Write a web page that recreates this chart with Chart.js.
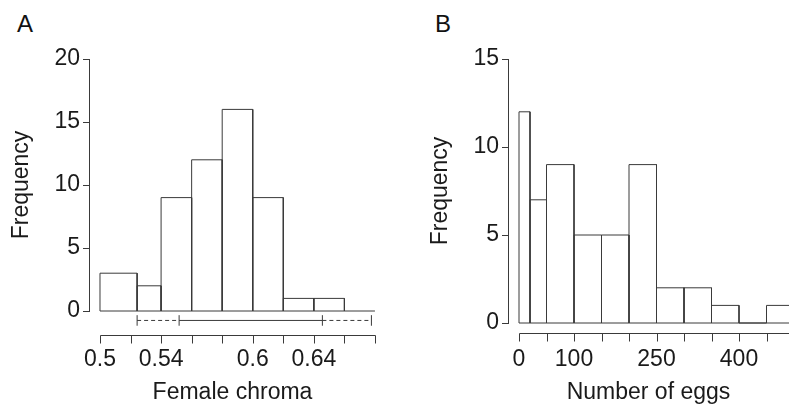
<!DOCTYPE html>
<html>
<head>
<meta charset="utf-8">
<script src="https://cdn.jsdelivr.net/npm/chart.js@4"></script>
<style>
  body { margin: 0; background: #fff; width: 789px; height: 409px; overflow: hidden; position: relative;
         font-family: "Liberation Sans", Arial, sans-serif; }
  .panel { position: absolute; top: 0; height: 409px; }
  #wrapA { left: 0; width: 400px; }
  #wrapB { left: 400px; width: 389px; }
  .tag { position: absolute; font-size: 24px; line-height: 24px; color: #111; }
</style>
</head>
<body>
<div class="tag" style="left:17px;top:12px">A</div>
<div class="tag" style="left:435px;top:12px">B</div>
<div class="panel" id="wrapA"><canvas id="chartA"></canvas></div>
<div class="panel" id="wrapB"><canvas id="chartB"></canvas></div>
<script>
// Panel A: female chroma
const chromaEdges = [0.5, 0.5243, 0.54, 0.56, 0.58, 0.60, 0.62, 0.64, 0.66];
const chromaCounts = [3, 2, 9, 12, 16, 9, 1, 1];
const chromaTicks = [0.5, 0.52, 0.54, 0.56, 0.58, 0.6, 0.62, 0.64, 0.66, 0.68];
const chromaLabelled = [0.5, 0.54, 0.6, 0.64];
const chromaRange = [0.5243, 0.5518, 0.6456, 0.6777];   // dashed | solid | dashed
const freqTicksA = [0, 5, 10, 15, 20];

// Panel B: number of eggs
const eggEdges = [0, 20, 50, 100, 150, 200, 250, 300, 350, 400, 450, 500];
const eggCounts = [12, 7, 9, 5, 5, 9, 2, 2, 1, 0, 1];
const eggTicks = [0, 50, 100, 150, 200, 250, 300, 350, 400, 450, 500];
const eggLabelled = [0, 100, 250, 400];
const freqTicksB = [0, 5, 10, 15];

const INK = '#3a3a3a';
const TXT = '#1a1a1a';
const FONT = { family: '"Liberation Sans", Arial, sans-serif', size: 23 };
const RANGE_Y = -0.75;   // height of the range line under panel A
const CAP = 0.42;        // half height of its end marks

// histogram outline as one line with gaps between bars
function outline(edges, counts) {
  const pts = [];
  counts.forEach((c, i) => {
    pts.push({ x: edges[i], y: 0 }, { x: edges[i], y: c },
             { x: edges[i + 1], y: c }, { x: edges[i + 1], y: 0 },
             { x: edges[i + 1], y: null });
  });
  return pts;
}

// R style x axis, drawn a bit below the plot region
const rAxis = {
  id: 'rAxis',
  afterDraw(chart, args, opts) {
    const xs = chart.scales.x;
    const c = chart.ctx;
    const y0 = Math.round(chart.chartArea.bottom + opts.gap) + 0.5;
    const px = xs.ticks.map(t => Math.round(xs.getPixelForValue(t.value)) + 0.5);
    c.save();
    c.strokeStyle = INK;
    c.lineWidth = 1;
    c.beginPath();
    c.moveTo(px[0], y0);
    c.lineTo(px[px.length - 1], y0);
    px.forEach(p => { c.moveTo(p, y0); c.lineTo(p, y0 + 8); });
    c.stroke();
    c.restore();
  }
};

function makeChart(id, cfg) {
  return new Chart(document.getElementById(id), {
    type: 'line',
    data: { datasets: cfg.datasets },
    options: {
      responsive: true,
      maintainAspectRatio: false,
      animation: false,
      events: [],
      layout: { padding: { top: 59, right: cfg.padRight, bottom: 0, left: 0 } },
      plugins: { legend: { display: false }, tooltip: { enabled: false }, rAxis: { gap: cfg.gap } },
      scales: {
        x: {
          type: 'linear',
          min: cfg.xMin,
          max: cfg.xMax,
          afterBuildTicks: s => { s.ticks = cfg.xTicks.map(v => ({ value: v })); },
          afterFit: s => { s.height = cfg.xHeight; s.paddingLeft = 0; s.paddingRight = 0; },
          grid: { display: false, drawTicks: false },
          border: { display: false },
          ticks: {
            autoSkip: false, maxRotation: 0, padding: cfg.xPad, color: TXT, font: FONT,
            callback: v => cfg.xLabelled.some(l => Math.abs(l - v) < 1e-9) ? String(v) : ''
          },
          title: { display: true, text: cfg.xTitle, color: TXT, font: FONT, padding: { top: 0, bottom: 3 } }
        },
        y: {
          min: 0,
          max: cfg.yMax,
          afterBuildTicks: s => { s.ticks = cfg.yTicks.map(v => ({ value: v })); },
          afterFit: s => { s.width = cfg.yWidth; s.paddingTop = 0; s.paddingBottom = 0; },
          grid: { drawOnChartArea: false, tickLength: 6, color: INK },
          border: { color: INK },
          ticks: { padding: 3, color: TXT, font: FONT },
          title: { display: true, text: 'Frequency', color: TXT, font: FONT, padding: { top: cfg.yTitlePad, bottom: 0 } }
        }
      }
    },
    plugins: [rAxis]
  });
}

const lineStyle = { borderColor: INK, borderWidth: 1, pointRadius: 0, spanGaps: false, fill: false, clip: false };

const rangeCaps = [];
chromaRange.forEach(v => {
  rangeCaps.push({ x: v, y: RANGE_Y - CAP }, { x: v, y: RANGE_Y + CAP }, { x: v, y: null });
});

makeChart('chartA', {
  xMin: 0.4928, xMax: 0.6807, padRight: 24, xHeight: 98, xPad: 35, gap: 24,
  xTicks: chromaTicks, xLabelled: chromaLabelled, xTitle: 'Female chroma',
  yMax: 20, yTicks: freqTicksA, yWidth: 89, yTitlePad: 8,
  datasets: [
    Object.assign({ data: [{ x: chromaEdges[0], y: 0 }, { x: chromaTicks[chromaTicks.length - 1], y: 0 }] }, lineStyle),
    Object.assign({ data: outline(chromaEdges, chromaCounts) }, lineStyle),
    Object.assign({}, lineStyle, {
      data: chromaRange.map(v => ({ x: v, y: RANGE_Y })),
      segment: { borderDash: ctx => ctx.p0DataIndex === 1 ? [] : [4, 3] }
    }),
    Object.assign({ data: rangeCaps }, lineStyle)
  ]
});

makeChart('chartB', {
  xMin: -20, xMax: 490.9, padRight: 0, xHeight: 86, xPad: 23, gap: 10,
  xTicks: eggTicks, xLabelled: eggLabelled, xTitle: 'Number of eggs',
  yMax: 15, yTicks: freqTicksB, yWidth: 108, yTitlePad: 27,
  datasets: [
    Object.assign({ data: [{ x: eggEdges[0], y: 0 }, { x: eggEdges[eggEdges.length - 1], y: 0 }] }, lineStyle),
    Object.assign({ data: outline(eggEdges, eggCounts) }, lineStyle)
  ]
});
</script>
</body>
</html>
